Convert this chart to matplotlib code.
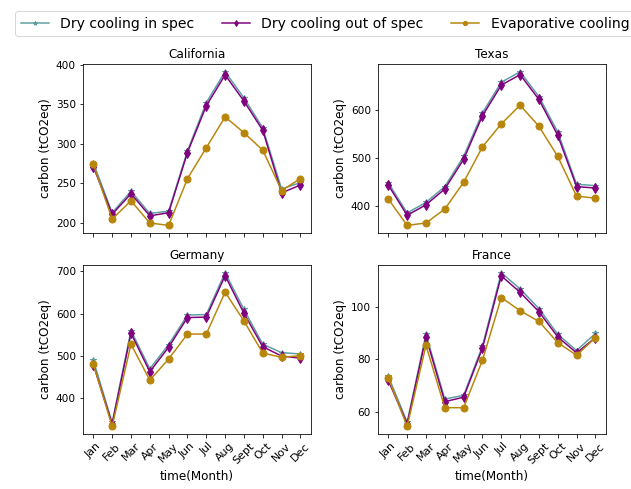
import matplotlib
matplotlib.use('Agg')
import matplotlib.pyplot as plt
from matplotlib.ticker import MultipleLocator

months = ['Jan', 'Feb', 'Mar', 'Apr', 'May', 'Jun', 'Jul', 'Aug', 'Sept', 'Oct', 'Nov', 'Dec']
regions = ['California', 'Texas', 'Germany', 'France']

# carbon per month
dry_in_spec = {
    'California': [276, 213, 240, 212, 215, 291, 352, 391, 358, 320, 243, 251],
    'Texas': [448, 385, 407, 440, 503, 594, 658, 680, 628, 554, 445, 442],
    'Germany': [490, 343, 560, 470, 527, 597, 598, 697, 610, 528, 508, 505],
    'France': [73.5, 56.0, 89.5, 64.8, 66.2, 85.0, 113.0, 106.8, 99.3, 89.5, 83.3, 89.8],
}
dry_out_spec = {
    'California': [271, 211, 237, 209, 213, 289, 348, 387, 354, 317, 238, 248],
    'Texas': [443, 380, 402, 435, 497, 588, 652, 674, 622, 547, 440, 437],
    'Germany': [480, 339, 554, 463, 521, 591, 592, 690, 601, 522, 500, 495],
    'France': [71.9, 55.3, 88.5, 63.8, 65.5, 84.2, 111.8, 105.5, 98.1, 88.5, 82.4, 88.2],
}
evaporative = {
    'California': [274, 205, 228, 200, 197, 256, 295, 334, 314, 292, 241, 256],
    'Texas': [414, 359, 364, 393, 449, 523, 571, 610, 566, 503, 420, 416],
    'Germany': [481, 334, 528, 443, 493, 552, 552, 651, 583, 507, 497, 501],
    'France': [72.8, 54.4, 85.3, 61.5, 61.5, 79.6, 103.5, 98.5, 94.4, 86.3, 81.5, 88.2],
}
y_steps = {'California': 50, 'Texas': 100, 'Germany': 100, 'France': 20}

plt.rcParams.update({'font.size': 12, 'xtick.labelsize': 11, 'ytick.labelsize': 10.5,
                     'axes.titlesize': 12, 'lines.markersize': 7})

fig, axes = plt.subplots(2, 2, figsize=(631 / 72, 489 / 72), dpi=72)
fig.subplots_adjust(left=0.1315, right=0.960, bottom=0.1125, top=0.869, wspace=0.295, hspace=0.189)

x = list(range(len(months)))
for ax, region in zip(axes.flat, regions):
    ax.plot(x, dry_in_spec[region], color='cadetblue', marker='*', label='Dry cooling in spec')
    ax.plot(x, dry_out_spec[region], color='purple', marker='d', label='Dry cooling out of spec')
    ax.plot(x, evaporative[region], color='darkgoldenrod', marker='o', label='Evaporative cooling')
    ax.set_title(region)
    ax.set_ylabel('carbon (tCO2eq)')
    ax.set_xticks(x)
    ax.set_xticklabels(months, rotation=45)
    ax.yaxis.set_major_locator(MultipleLocator(y_steps[region]))

for ax in axes[0]:
    ax.tick_params(labelbottom=False)
for ax in axes[1]:
    ax.set_xlabel('time(Month)')

handles, labels = axes[0, 0].get_legend_handles_labels()
fig.legend(handles, labels, loc='upper left', bbox_to_anchor=(8 / 631, 1 - 4 / 489),
           ncol=3, fontsize=14, markerscale=0.6)

fig.savefig('out.png', dpi=72)
